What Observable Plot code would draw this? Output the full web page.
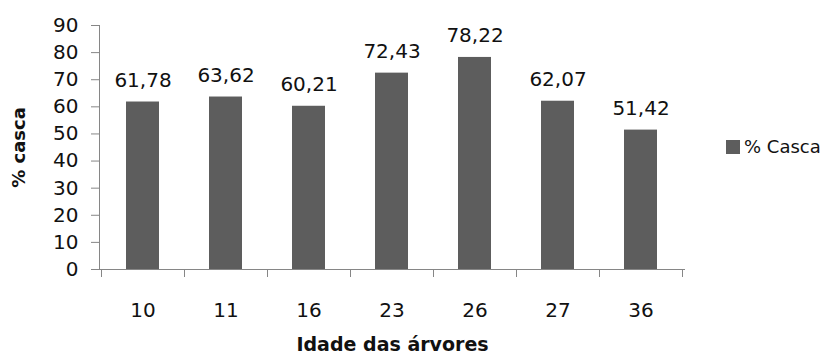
<!DOCTYPE html>
<html>
<head>
<meta charset="utf-8">
<script src="https://cdn.jsdelivr.net/npm/d3@7"></script>
<script src="https://cdn.jsdelivr.net/npm/@observablehq/plot@0.6"></script>
<style>
  body { margin: 0; background: #fff; }
  #chart { position: relative; width: 828px; height: 353px; font-family: "DejaVu Sans", sans-serif; }
  #chart svg { display: block; }
  .legend { position: absolute; left: 726px; top: 136px; display: flex; align-items: center; font-size: 18px; color: #111; }
  .legend .sw { width: 14px; height: 14px; margin-right: 4px; }
</style>
</head>
<body>
<div id="chart"></div>
<script>
// Tree age (years) and bark percentage
const idades = ["10", "11", "16", "23", "26", "27", "36"];
const casca = [61.78, 63.62, 60.21, 72.43, 78.22, 62.07, 51.42];
const yTicks = [0, 10, 20, 30, 40, 50, 60, 70, 80, 90];
const serie = "% Casca";
const tituloX = "Idade das árvores";
const tituloY = "% casca";

const barColor = "#5d5d5d";
const axisColor = "#868686";

const data = idades.map((idade, i) => ({idade, casca: casca[i]}));
const fmt = v => v.toFixed(2).replace(".", ",");

// Tick marks at the boundaries between age categories
function bandEdges(index, scales, values, dims) {
  const x = scales.x;
  const bw = x.bandwidth();
  const step = x.step();
  const y0 = dims.height - dims.marginBottom;
  const edges = idades.map(c => x(c) + bw / 2 - step / 2);
  edges.push(x(idades[idades.length - 1]) + bw / 2 + step / 2);
  const g = d3.create("svg:g").attr("stroke", axisColor).attr("stroke-width", 1);
  for (const e of edges) {
    g.append("line")
      .attr("x1", Math.round(e) + 0.5).attr("x2", Math.round(e) + 0.5)
      .attr("y1", y0).attr("y2", y0 + 8);
  }
  return g.node();
}

const chart = Plot.plot({
  width: 828,
  height: 353,
  marginLeft: 99,
  marginRight: 143,
  marginTop: 25,
  marginBottom: 84,
  style: {fontFamily: "DejaVu Sans, sans-serif", fontSize: "20px", color: "#111", background: "#fff"},
  x: {domain: idades, paddingInner: 0.6, paddingOuter: 0.3, label: null},
  y: {domain: [0, 90], label: null},
  marks: [
    Plot.barY(data, {x: "idade", y: "casca", fill: barColor}),
    Plot.frame({anchor: "left", stroke: axisColor}),
    Plot.ruleY([0], {stroke: axisColor}),
    Plot.axisY({ticks: yTicks, tickSize: 8, tickPadding: 13, stroke: axisColor, label: null, fontSize: 20}),
    Plot.axisX({tickSize: 0, tickPadding: 33, label: null, fontSize: 20}),
    bandEdges,
    Plot.text(data, {x: "idade", y: "casca", text: d => fmt(d.casca), lineAnchor: "bottom", dy: -15, fontSize: 20}),
    Plot.text([tituloX], {frameAnchor: "bottom", textAnchor: "middle", lineAnchor: "bottom", dy: 81, fontWeight: "bold", fontSize: 19}),
    Plot.text([tituloY], {frameAnchor: "left", textAnchor: "middle", rotate: -90, dx: -80, fontWeight: "bold", fontSize: 18})
  ]
});

const root = document.getElementById("chart");
root.append(chart);

const legend = document.createElement("div");
legend.className = "legend";
const sw = document.createElement("span");
sw.className = "sw";
sw.style.background = barColor;
const lab = document.createElement("span");
lab.textContent = serie;
legend.append(sw, lab);
root.append(legend);
</script>
</body>
</html>
